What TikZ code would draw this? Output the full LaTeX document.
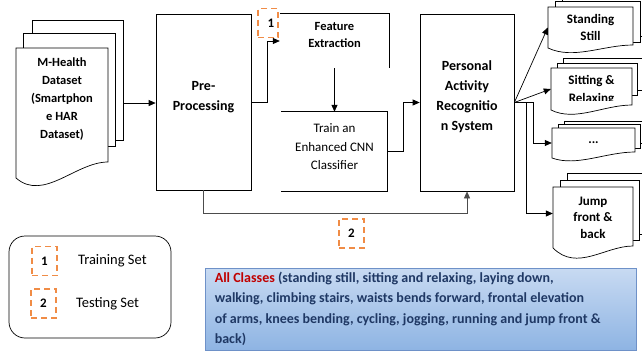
\documentclass[tikz,border=0pt]{standalone}
\usepackage{fontspec}
\setmainfont{Carlito}
\usetikzlibrary{arrows.meta, positioning, calc}
\definecolor{setorange}{RGB}{240,140,70}
\definecolor{clsblue}{RGB}{31,56,100}
\definecolor{clsred}{RGB}{192,0,0}
\definecolor{clstop}{RGB}{200,218,242}
\definecolor{clsbot}{RGB}{142,180,227}
\definecolor{clsedge}{RGB}{110,145,200}
\tikzset{
  blk/.style={rectangle, draw, line width=0.7pt, inner sep=0pt},
  blktxt/.style={align=center, inner sep=0pt,
    font=\fontsize{14}{20}\selectfont\bfseries},
  ghost/.style={rectangle, inner sep=0pt},
  sub/.style={align=center, inner sep=0pt,
    font=\fontsize{13}{17.5}\selectfont},
  doctxt/.style={align=center, inner sep=0pt,
    font=\fontsize{13}{16.5}\selectfont\bfseries},
  page/.style={draw, fill=white, line width=0.7pt},
  edge/.style={line width=0.7pt},
  arr/.style={-{Triangle[length=7pt,width=6pt]}, line width=0.7pt},
  setbox/.style={rectangle, draw=setorange, line width=1.8pt,
    dash pattern=on 6pt off 4pt, minimum width=25pt,
    minimum height=29pt, inner sep=0pt,
    font=\fontsize{13}{13}\selectfont\bfseries},
  legtxt/.style={inner sep=0pt, anchor=west,
    font=\fontsize{14.5}{14.5}\selectfont},
}
% page with a wavy lower edge: x, y, width, left height, dip, rise
\newcommand{\docpage}[6]{%
  \draw[page] (#1,#2) -- ++(#3,0) -- ++(0,#4-#6)
    .. controls +(-0.35*#3,0) and +(0.3*#3,3*#5) .. (#1,#2+#4) -- cycle;}

\begin{document}
\begin{tikzpicture}[x=1pt, y=-1pt]
  \useasboundingbox (0,0) rectangle (642,354);
  \clip (0,0) rectangle (642,354);

  % Input dataset (stack of pages)
  \draw[page] (32,20) rectangle (123,140);
  \draw[page] (23,33) rectangle (115,146);
  \docpage{16}{48}{92}{130}{8}{16}
  \node[doctxt, font=\fontsize{12.5}{18.2}\selectfont\bfseries] (ds) at (62,99)
       {M-Health\\Dataset\\(Smartphon\\e HAR\\Dataset)};
  \coordinate (dsedge) at (123,103);

  % Pre-processing
  \node[blk, minimum width=95pt, minimum height=176pt] (pre) at (203.5,102) {};
  \node[blktxt, yshift=5pt] (prelbl) at (pre.center) {Pre-\\Processing};

  % Feature extraction (open frame)
  \node[ghost, minimum width=109pt, minimum height=54pt] (feat) at (334.5,41) {};
  \draw[edge] (feat.north west) -- (feat.north east) -- (feat.south east);
  \node[sub, font=\fontsize{12.5}{17}\selectfont\bfseries, below=8pt of feat.north]
       (featlbl) {Feature\\Extraction};

  % CNN training (open frame)
  \node[ghost, minimum width=106pt, minimum height=79pt] (train) at (334.5,151.5) {};
  \draw[edge] (train.north west) -- (train.north east)
       -- (train.south east) -- (train.south west);
  \node[sub, font=\fontsize{13}{18.5}\selectfont, yshift=4.5pt] (trainlbl)
       at (train.center) {Train an\\Enhanced CNN\\Classifier};

  % Recognition system
  \node[blk, minimum width=94pt, minimum height=177pt] (pars) at (467,102.5) {};
  \node[blktxt, yshift=6pt] (parslbl) at (pars.center)
       {Personal\\Activity\\Recognitio\\n System};

  % Output classes
  \draw[page] (562,-5) rectangle (647,36);
  \draw[page] (555,1) rectangle (640,42);
  \docpage{548}{7}{85}{41}{4}{3}
  \node[doctxt, minimum width=85pt, minimum height=41pt] (still) at (590.5,27.5)
       {Standing\\Still};

  \draw[page] (563,58) rectangle (645,90);
  \draw[page] (557,63) rectangle (637,95);
  \docpage{551}{68}{81}{42}{4}{5}
  \begin{scope}
    \clip (540,60) rectangle (642,100.5);
    \node[doctxt, font=\fontsize{13}{18}\selectfont\bfseries,
          minimum width=81pt, minimum height=42pt] (sit) at (591.5,90)
         {Sitting \&\\Relaxing};
  \end{scope}

  \draw[page] (564,121) rectangle (646,143);
  \draw[page] (558,124.5) rectangle (640,148);
  \docpage{552}{128}{83}{30}{3}{6}
  \node[doctxt, minimum width=83pt, minimum height=30pt] (dots) at (593.5,143) {...};

  \draw[page] (567,173) rectangle (646,234);
  \draw[page] (560,180) rectangle (639,240);
  \docpage{553}{187}{80}{61}{8}{2}
  \node[doctxt, minimum width=80pt, minimum height=61pt] (jump) at (593,217.5)
       {Jump\\front \&\\back};

  % Connectors
  \draw[arr] (dsedge) -- (pre.west |- dsedge);
  \draw[arr] (pre.east) -- ++(16,0) |- (feat.west);
  \draw[arr] (feat.south) -- (train.north);
  \draw[arr] (train.east) -- ++(16,0) |- (pars.west);
  \draw[arr, draw=black!70] (pre.south) -- ++(0,23) -| (pars.south);
  \draw[arr] (pars.east) -- (still.west);
  \draw[arr] (pars.east) -- ([yshift=1pt]sit.west);
  \draw[arr] (pars.east) -- ++(19,0) |- (dots.west);
  \draw[arr] (pars.east) -- ++(12,0) |- ([yshift=4pt]jump.west);

  % Set markers
  \node[setbox, minimum width=20pt] (s1) at (268,23) {\hspace*{6pt}1};
  \node[setbox] (s2) at (351.5,233.5) {2};

  % Legend
  \node[draw, line width=0.7pt, rounded corners=16pt, minimum width=162pt,
        minimum height=102pt] (legend) at (90,287) {};
  \node[setbox] (leg1) at (44.5,261) {1};
  \node[setbox] (leg2) at (43.5,303.5) {2};
  \node[legtxt, right=20pt of leg1] (legtrain) {Training Set};
  \node[legtxt, right=19pt of leg2] (legtest) {Testing Set};

  % All classes
  \node[draw=clsedge, line width=0.8pt, top color=clstop, bottom color=clsbot,
        minimum width=431pt, minimum height=82pt, inner sep=0pt]
       (classes) at (420.5,309) {};
  \node[anchor=west, align=left, inner sep=0pt, text=clsblue,
        font=\fontsize{14}{20.5}\selectfont\bfseries] (clstxt)
       at ([xshift=10pt]classes.west)
       {\textcolor{clsred}{All Classes} (standing still, sitting and relaxing, laying down,\\
        walking, climbing stairs, waists bends forward, frontal elevation\\
        of arms, knees bending, cycling, jogging, running and jump front \&\\
        back)};
\end{tikzpicture}
\end{document}
